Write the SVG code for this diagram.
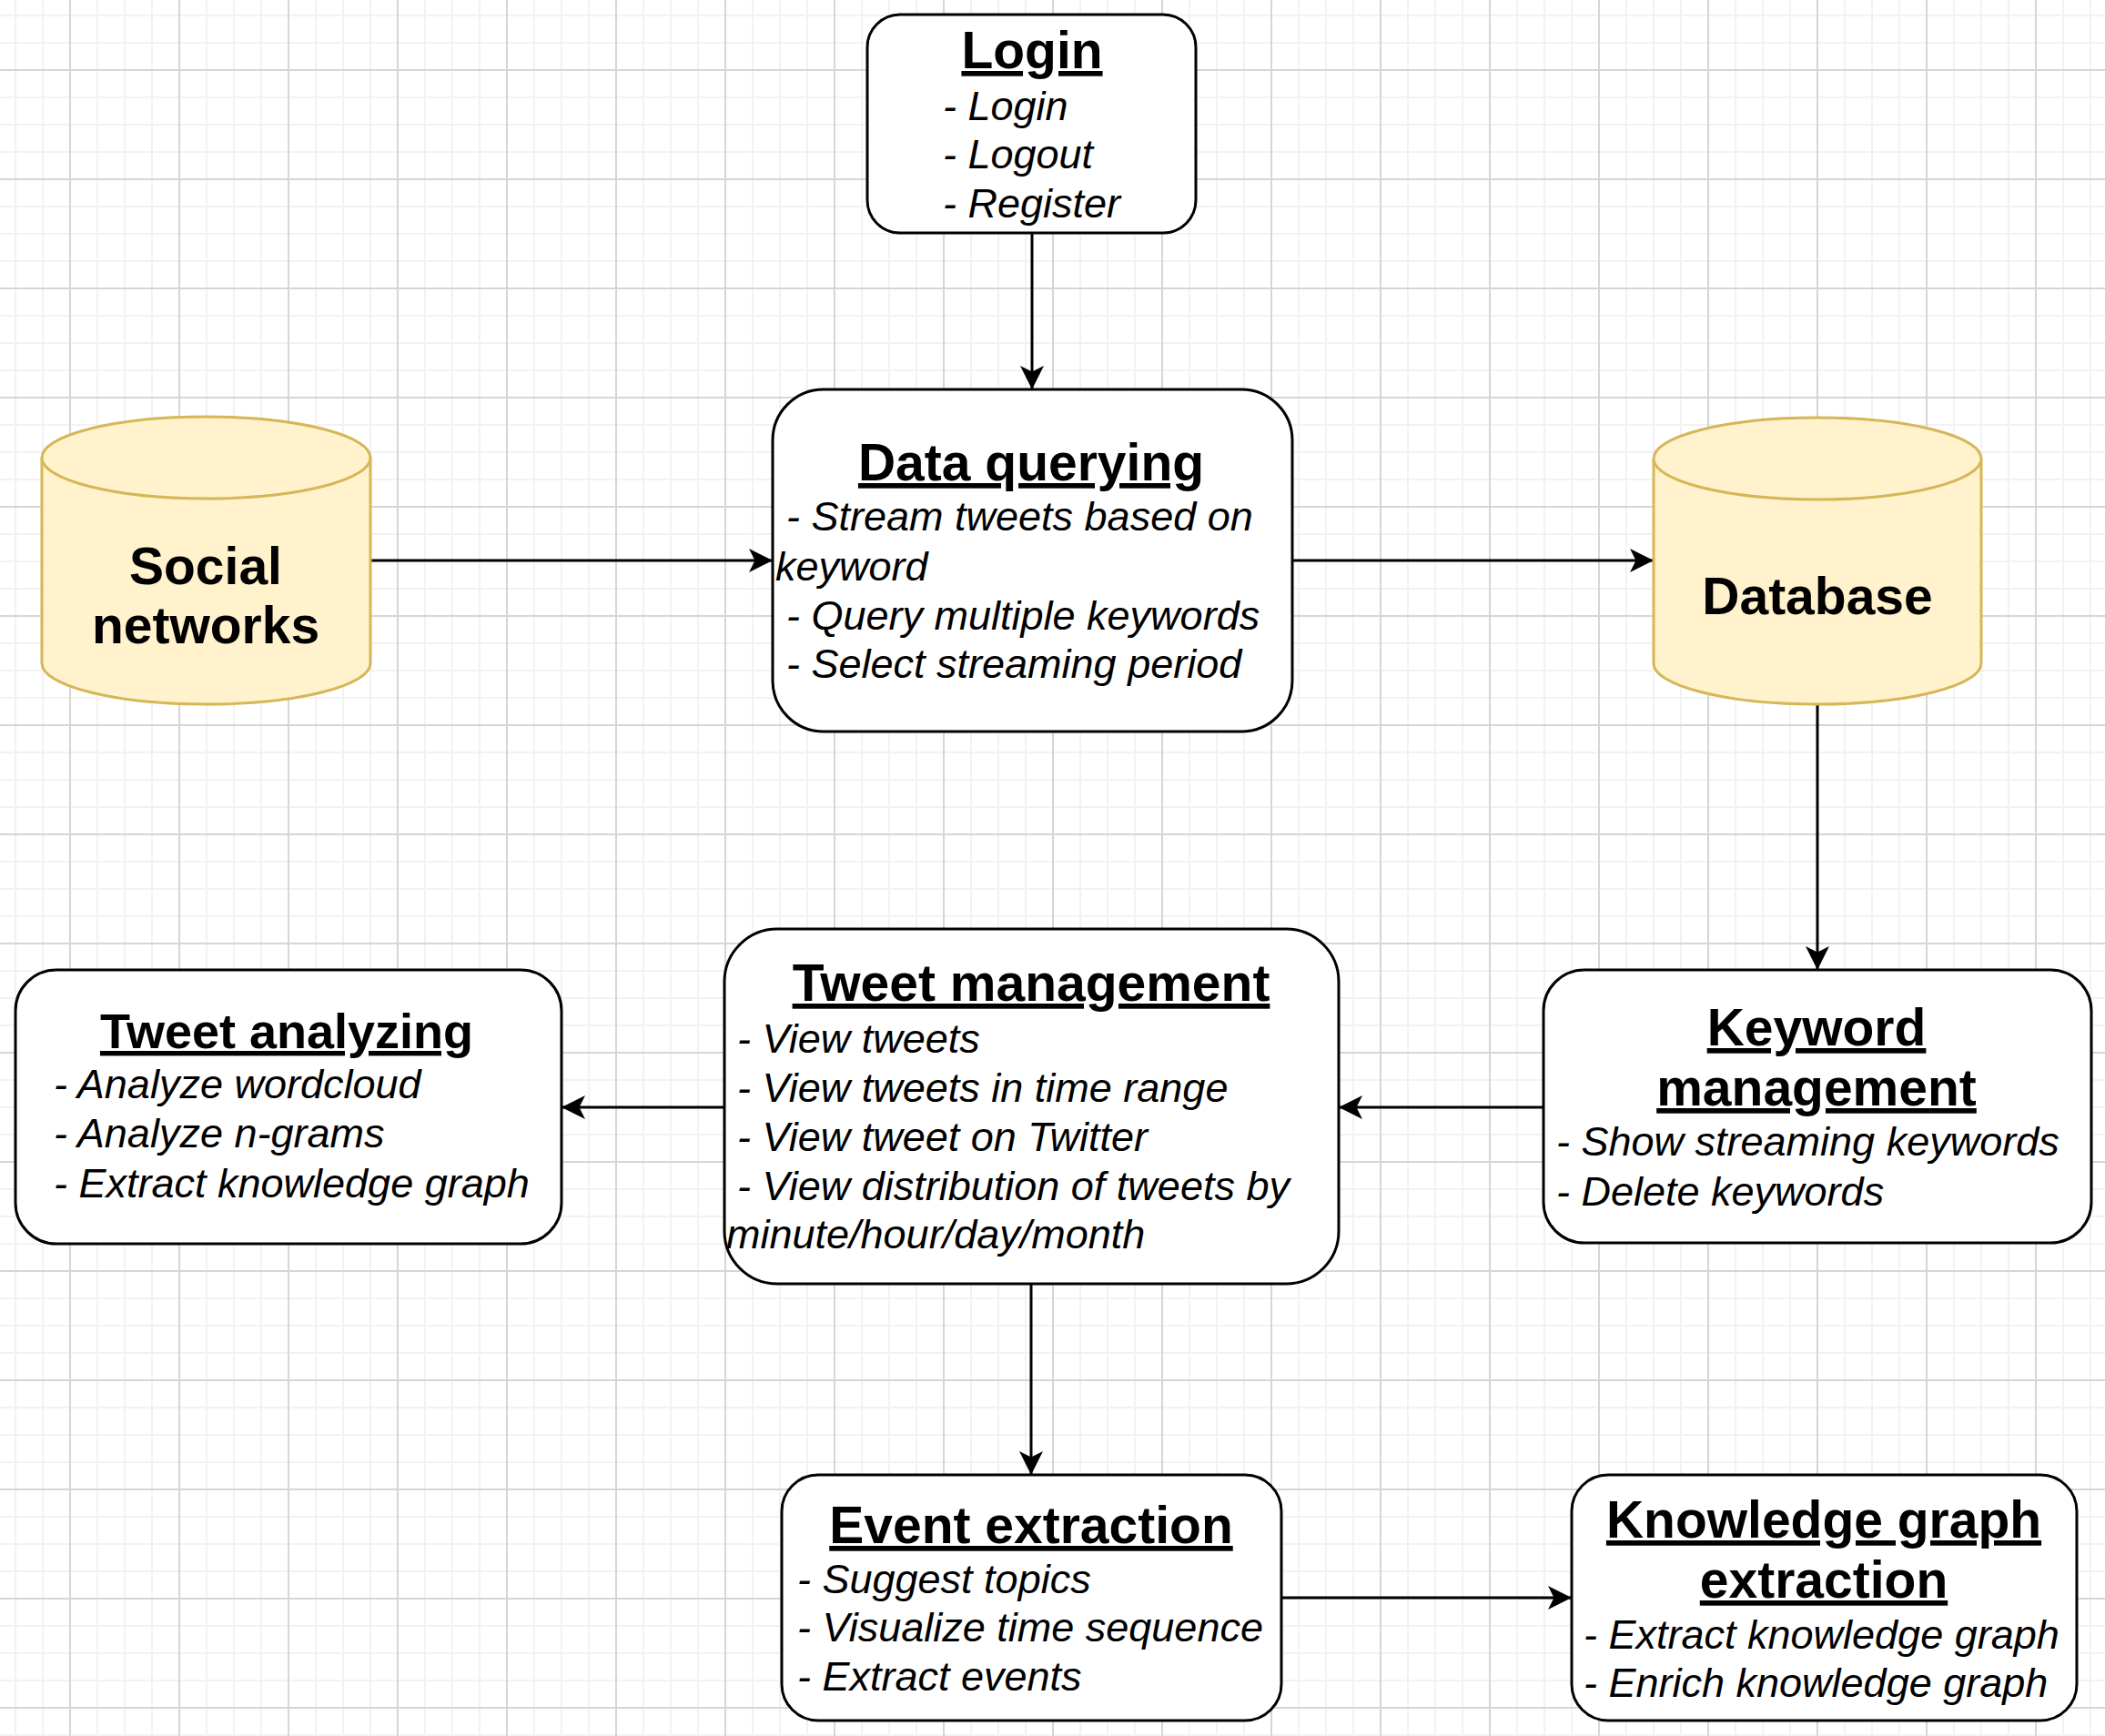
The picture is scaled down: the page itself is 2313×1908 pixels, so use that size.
<svg xmlns="http://www.w3.org/2000/svg" width="2313" height="1908" viewBox="0 0 2313 1908">
<style>
.box{fill:#ffffff;stroke:#000000;stroke-width:3}
.cyl{fill:#fff2cc;stroke:#d6b656;stroke-width:3}
.edge{fill:none;stroke:#000000;stroke-width:3}
.title{font-family:"Liberation Sans",Arial,sans-serif;font-size:57px;font-weight:bold;text-anchor:middle;text-decoration:underline;fill:#000}
.title.small{font-size:54px}
.cyltext{font-family:"Liberation Sans",Arial,sans-serif;font-size:57px;font-weight:bold;text-anchor:middle;fill:#000}
.item{font-family:"Liberation Sans",Arial,sans-serif;font-size:45px;font-style:italic;fill:#000}
</style>
<defs>
<pattern id="grid" patternUnits="userSpaceOnUse" x="76" y="76" width="120" height="120">
<rect x="30" y="0" width="2" height="120" fill="#f2f2f2"/>
<rect x="60" y="0" width="2" height="120" fill="#f2f2f2"/>
<rect x="90" y="0" width="2" height="120" fill="#f2f2f2"/>
<rect x="0" y="30" width="120" height="2" fill="#f2f2f2"/>
<rect x="0" y="60" width="120" height="2" fill="#f2f2f2"/>
<rect x="0" y="90" width="120" height="2" fill="#f2f2f2"/>
<rect x="0" y="0" width="2" height="120" fill="#d6d6d6"/>
<rect x="0" y="0" width="120" height="2" fill="#d6d6d6"/>
</pattern>
<marker id="arrow" markerUnits="userSpaceOnUse" markerWidth="26" markerHeight="26" viewBox="0 0 26 26" refX="26" refY="13" orient="auto">
<path d="M26,13 L0,0 L6.5,13 L0,26 Z" fill="#000000"/>
</marker>
</defs>
<rect x="0" y="0" width="2313" height="1908" fill="#ffffff"/>
<rect x="0" y="0" width="2313" height="1908" fill="url(#grid)"/>

<g id="connectors">
<line class="edge" x1="1134" y1="256" x2="1134" y2="428" marker-end="url(#arrow)"/>
<line class="edge" x1="407" y1="616" x2="849" y2="616" marker-end="url(#arrow)"/>
<line class="edge" x1="1420" y1="616" x2="1817" y2="616" marker-end="url(#arrow)"/>
<line class="edge" x1="1997" y1="774" x2="1997" y2="1066" marker-end="url(#arrow)"/>
<line class="edge" x1="1696" y1="1217" x2="1471" y2="1217" marker-end="url(#arrow)"/>
<line class="edge" x1="796" y1="1217" x2="617" y2="1217" marker-end="url(#arrow)"/>
<line class="edge" x1="1133" y1="1411" x2="1133" y2="1621" marker-end="url(#arrow)"/>
<line class="edge" x1="1408" y1="1756" x2="1727" y2="1756" marker-end="url(#arrow)"/>
</g>

<g id="login">
<rect class="box" x="953" y="16" width="361" height="240" rx="36" ry="36"/>
<text class="title" x="1134" y="75">Login</text>
<text class="item" x="1036" y="132">- Login</text>
<text class="item" x="1036" y="185">- Logout</text>
<text class="item" x="1036" y="239">- Register</text>
</g>

<g id="social-networks">
<path class="cyl" d="M46,503 A180.5,45 0 0 1 407,503 L407,729 A180.5,45 0 0 1 46,729 Z"/>
<path class="cyl" d="M46,503 A180.5,45 0 0 0 407,503" fill="none"/>
<text class="cyltext" x="226" y="642">Social</text>
<text class="cyltext" x="226" y="707">networks</text>
</g>

<g id="data-querying">
<rect class="box" x="849" y="428" width="571" height="376" rx="56" ry="56"/>
<text class="title" x="1133" y="528">Data querying</text>
<text class="item" x="864" y="583">- Stream tweets based on</text>
<text class="item" x="852" y="638">keyword</text>
<text class="item" x="864" y="692">- Query multiple keywords</text>
<text class="item" x="864" y="745">- Select streaming period</text>
</g>

<g id="database">
<path class="cyl" d="M1817,504 A180,45 0 0 1 2177,504 L2177,729 A180,45 0 0 1 1817,729 Z"/>
<path class="cyl" d="M1817,504 A180,45 0 0 0 2177,504" fill="none"/>
<text class="cyltext" x="1997" y="675">Database</text>
</g>

<g id="tweet-analyzing">
<rect class="box" x="17" y="1066" width="600" height="301" rx="45" ry="45"/>
<text class="title small" x="315" y="1152">Tweet analyzing</text>
<text class="item" x="59" y="1207">- Analyze wordcloud</text>
<text class="item" x="59" y="1261">- Analyze n-grams</text>
<text class="item" x="59" y="1316">- Extract knowledge graph</text>
</g>

<g id="tweet-management">
<rect class="box" x="796" y="1021" width="675" height="390" rx="58" ry="58"/>
<text class="title" x="1133" y="1100">Tweet management</text>
<text class="item" x="810" y="1157">- View tweets</text>
<text class="item" x="810" y="1211">- View tweets in time range</text>
<text class="item" x="810" y="1265">- View tweet on Twitter</text>
<text class="item" x="810" y="1319">- View distribution of tweets by</text>
<text class="item" x="798" y="1372">minute/hour/day/month</text>
</g>

<g id="keyword-management">
<rect class="box" x="1696" y="1066" width="602" height="300" rx="45" ry="45"/>
<text class="title" x="1996" y="1149">Keyword</text>
<text class="title" x="1996" y="1215">management</text>
<text class="item" x="1710" y="1270">- Show streaming keywords</text>
<text class="item" x="1710" y="1325">- Delete keywords</text>
</g>

<g id="event-extraction">
<rect class="box" x="859" y="1621" width="549" height="270" rx="40" ry="40"/>
<text class="title" x="1133" y="1696">Event extraction</text>
<text class="item" x="876" y="1751">- Suggest topics</text>
<text class="item" x="876" y="1804">- Visualize time sequence</text>
<text class="item" x="876" y="1858">- Extract events</text>
</g>

<g id="knowledge-graph-extraction">
<rect class="box" x="1727" y="1621" width="555" height="270" rx="40" ry="40"/>
<text class="title" x="2004" y="1690">Knowledge graph</text>
<text class="title" x="2004" y="1756">extraction</text>
<text class="item" x="1740" y="1812">- Extract knowledge graph</text>
<text class="item" x="1740" y="1865">- Enrich knowledge graph</text>
</g>
</svg>
